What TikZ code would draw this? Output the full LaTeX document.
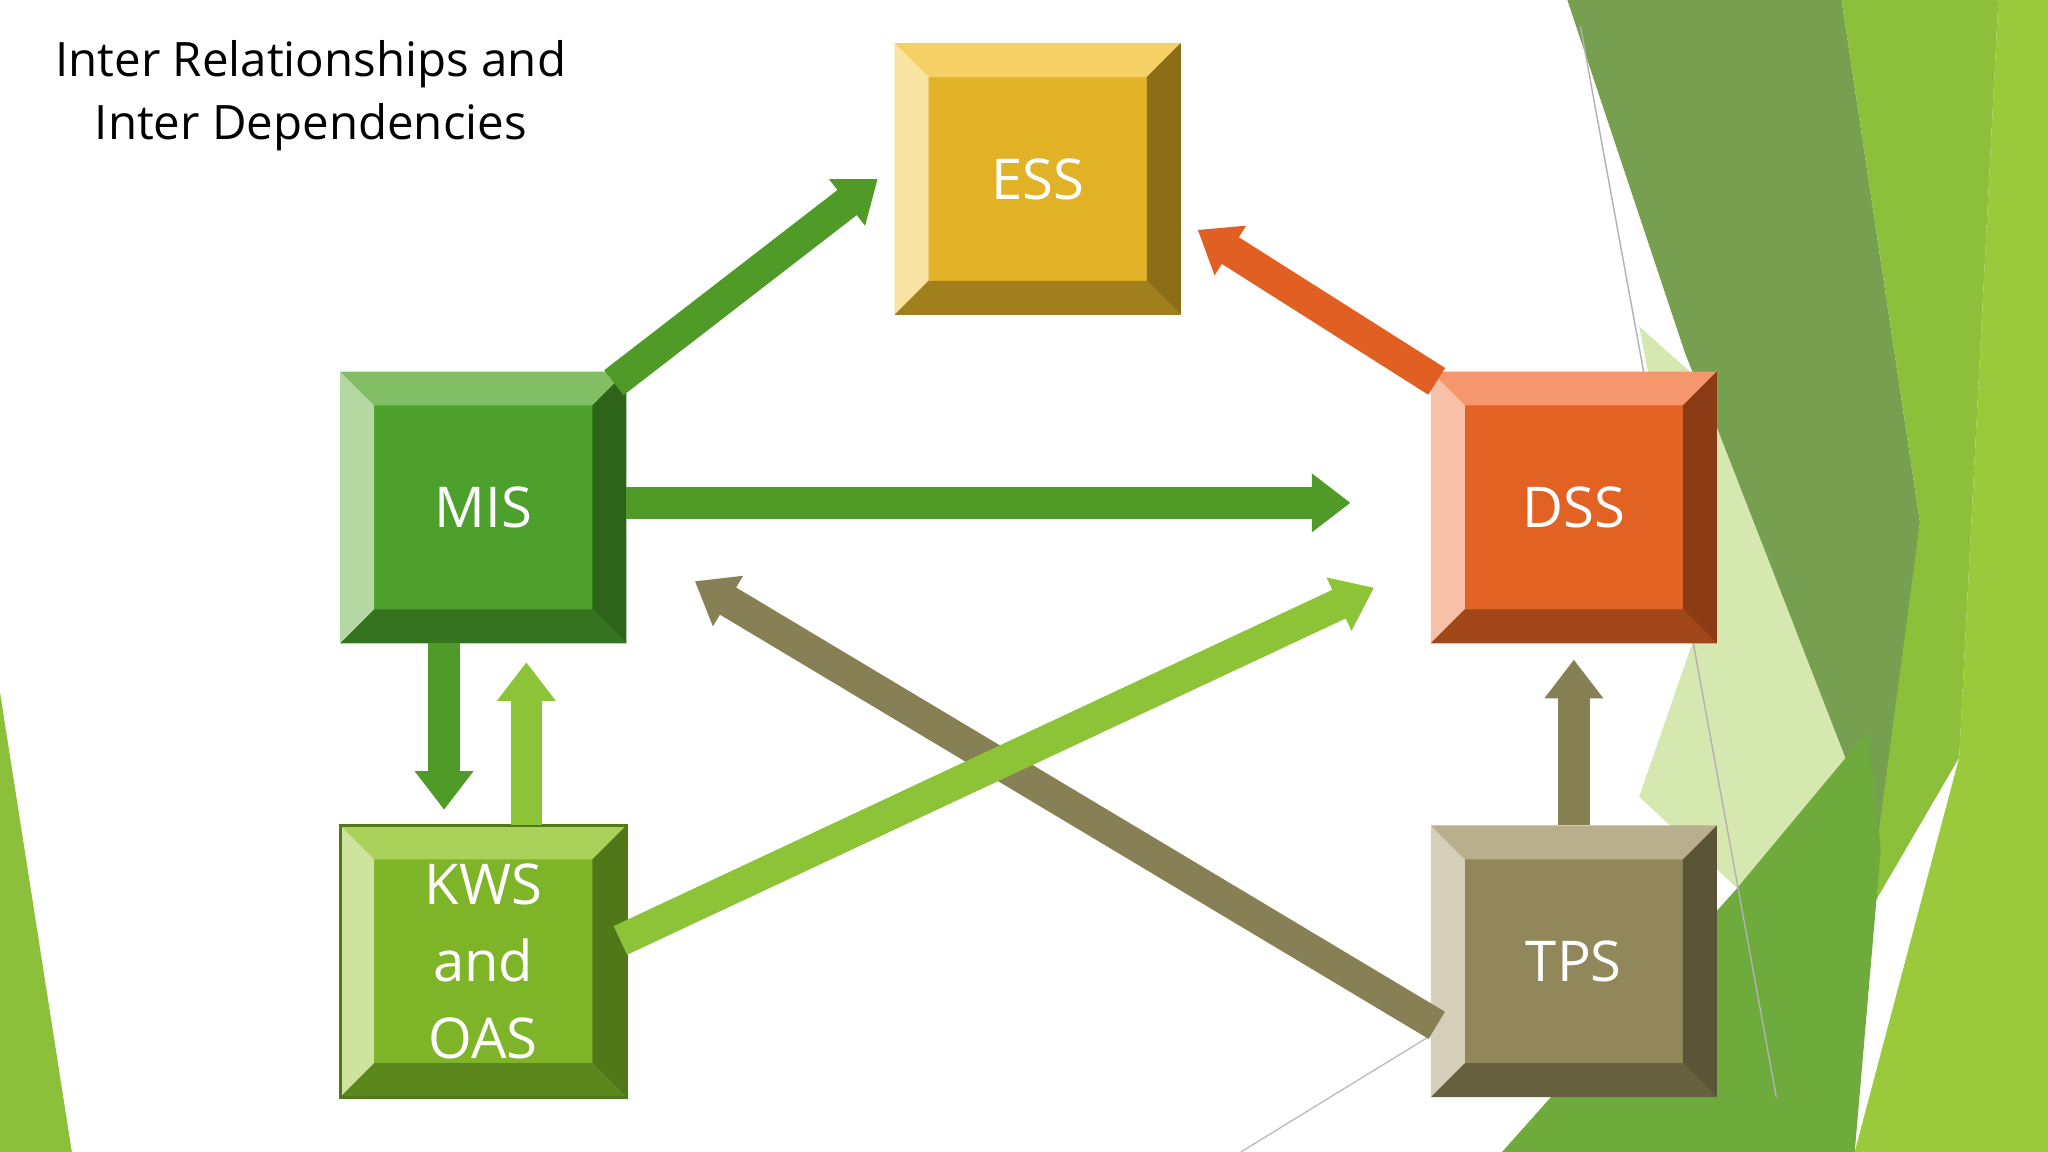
\documentclass[tikz,border=0pt]{standalone}
\usepackage{fontspec}
\setmainfont{Open Sans}
\usetikzlibrary{arrows.meta}
\begin{document}
\begin{tikzpicture}[x=0.013061cm,y=-0.013061cm,
  arr/.style={line width=9pt,-{Triangle[length=11pt,width=16pt]}},
  lbl/.style={text=white,font=\fontsize{16}{22}\selectfont,align=center}]
\useasboundingbox (0,0) rectangle (1568,882);
\fill[white] (0,0) rectangle (1568,882);
% background shapes
\fill[color={rgb,255:red,118;green,160;blue,80}] (1200,0)--(1410,0)--(1470,400)--(1440,650)--(1290,270)--cycle;
\fill[color={rgb,255:red,213;green,232;blue,176}] (1255,250)--(1300,290)--(1440,650)--(1330,680)--(1255,610)--(1300,480)--cycle;
\fill[color={rgb,255:red,141;green,192;blue,58}] (1410,0)--(1530,0)--(1500,580)--(1430,700)--(1470,400)--cycle;
\fill[color={rgb,255:red,155;green,201;blue,60}] (1530,0)--(1568,0)--(1568,882)--(1420,882)--(1500,580)--cycle;
\fill[color={rgb,255:red,110;green,170;blue,60}] (1150,882)--(1330,680)--(1430,560)--(1440,650)--(1420,882)--cycle;
\fill[color={rgb,255:red,141;green,192;blue,58}] (0,530)--(55,882)--(0,882)--cycle;
\draw[gray!60,thin] (1210,20)--(1360,840);
\draw[gray!50,thin] (950,882)--(1100,790);
% title
\node[font=\fontsize{13.5}{18}\selectfont,align=center] (title) at (238,73) {Inter Relationships and\\Inter Dependencies};
% bevel boxes
\newcommand{\bevbox}[8]{%
 \node[minimum width=218*0.013061cm,minimum height=207*0.013061cm,inner sep=0,fill=#4] (#1) at (#2,#3) {};
 \fill[#5] (#1.north west)--(#1.north east)--([xshift=-26*0.013061cm,yshift=-26*0.013061cm]#1.north east)--([xshift=26*0.013061cm,yshift=-26*0.013061cm]#1.north west)--cycle;
 \fill[#5!60!white] (#1.north west)--(#1.south west)--([xshift=26*0.013061cm,yshift=26*0.013061cm]#1.south west)--([xshift=26*0.013061cm,yshift=-26*0.013061cm]#1.north west)--cycle;
 \fill[#6] (#1.north east)--(#1.south east)--([xshift=-26*0.013061cm,yshift=26*0.013061cm]#1.south east)--([xshift=-26*0.013061cm,yshift=-26*0.013061cm]#1.north east)--cycle;
 \fill[#6!75!#4] (#1.south west)--(#1.south east)--([xshift=-26*0.013061cm,yshift=26*0.013061cm]#1.south east)--([xshift=26*0.013061cm,yshift=26*0.013061cm]#1.south west)--cycle;
 \node[lbl] at (#1) {#7};}
\definecolor{essf}{RGB}{226,178,38}\definecolor{esst}{RGB}{245,208,100}\definecolor{essd}{RGB}{140,110,25}
\definecolor{misf}{RGB}{78,160,45}\definecolor{mist}{RGB}{130,190,100}\definecolor{misd}{RGB}{45,100,25}
\definecolor{dssf}{RGB}{226,98,36}\definecolor{dsst}{RGB}{245,150,110}\definecolor{dssd}{RGB}{140,60,20}
\definecolor{kwsf}{RGB}{125,180,40}\definecolor{kwst}{RGB}{170,210,90}\definecolor{kwsd}{RGB}{80,120,25}
\definecolor{tpsf}{RGB}{145,135,90}\definecolor{tpst}{RGB}{185,175,140}\definecolor{tpsd}{RGB}{90,85,55}
\bevbox{ess}{794.5}{137}{essf}{esst}{essd}{ESS}{}
\bevbox{mis}{370}{388.5}{misf}{mist}{misd}{MIS}{}
\bevbox{dss}{1205}{388.5}{dssf}{dsst}{dssd}{DSS}{}
\bevbox{kws}{370}{736}{kwsf}{kwst}{kwsd}{KWS\\and\\OAS}{}
\bevbox{tps}{1205}{736}{tpsf}{tpst}{tpsd}{TPS}{}
\draw[kwsd,line width=0.8pt] (kws.north west) rectangle (kws.south east);
% connectors
\coordinate (a1) at (672,137); \coordinate (a2) at (917,176);
\coordinate (a3) at (1034,385); \coordinate (a4) at (532,445);
\coordinate (a5) at (1052,450); \coordinate (a6) at (340,620);
\coordinate (a7) at (403,507); \coordinate (a8) at (1205,505);
\draw[arr,color={rgb,255:red,80;green,155;blue,40}] (470,293)--(a1);
\draw[arr,color={rgb,255:red,225;green,95;blue,35}] (1100,292)--(a2);
\draw[arr,color={rgb,255:red,80;green,155;blue,40}] (479,385)--(a3);
\draw[arr,color={rgb,255:red,135;green,128;blue,85}] (1100,785)--(a4);
\draw[arr,color={rgb,255:red,140;green,195;blue,55}] (475,720)--(a5);
\draw[arr,color={rgb,255:red,80;green,155;blue,40}] (340,492)--(a6);
\draw[arr,color={rgb,255:red,140;green,195;blue,55}] (403,632)--(a7);
\draw[arr,color={rgb,255:red,135;green,128;blue,85}] (1205,632)--(a8);
\end{tikzpicture}
\end{document}
